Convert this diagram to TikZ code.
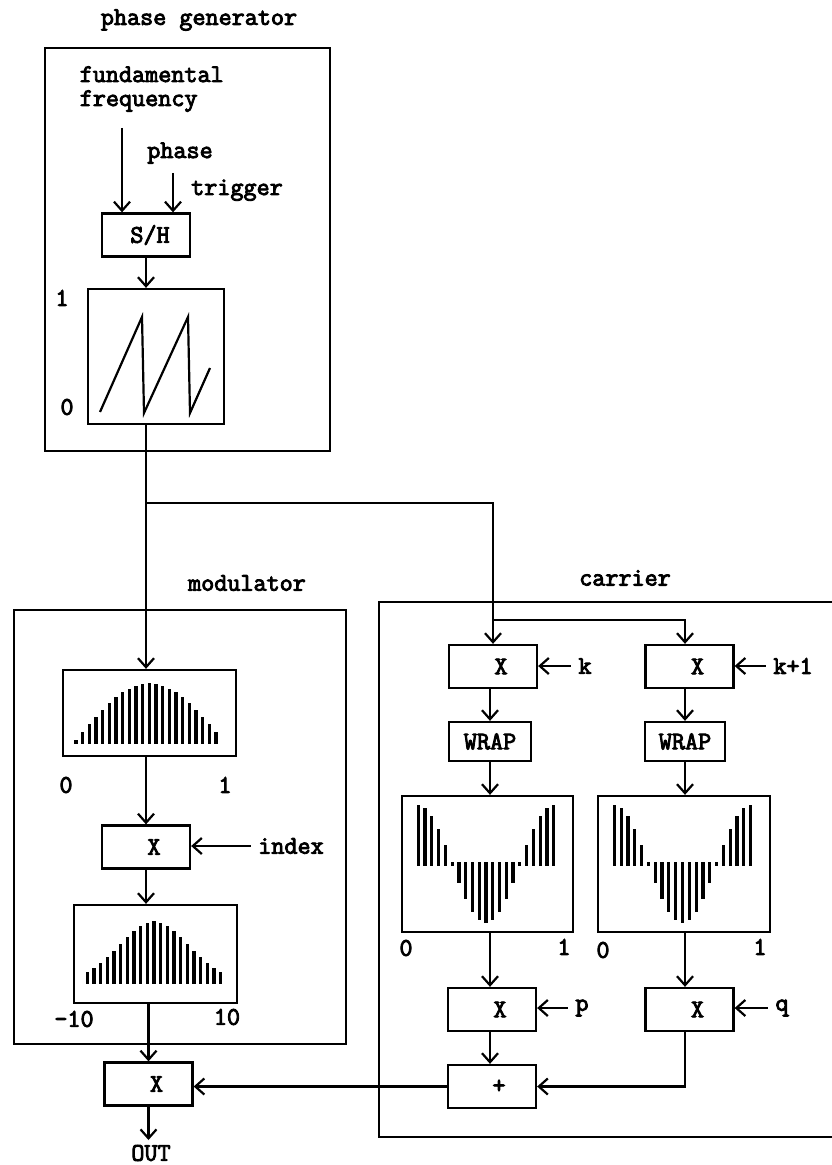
\documentclass[tikz,border=0pt]{standalone}
\usepackage{fontspec}
\newfontfamily\courb{Latin Modern Mono}[FakeBold=3.5]
\usetikzlibrary{arrows.meta,calc}

\tikzset{
  box/.style={draw, line width=1.15pt, inner sep=0pt, minimum width=44pt, minimum height=21.5pt},
  mul/.style={box, label={[xshift=4pt]center:X}},
  wavetab/.style={draw, line width=1.15pt, inner sep=0pt},
  group/.style={draw, line width=1.15pt},
  bar/.style={line width=1.6pt, line cap=rect},
}

\begin{document}
\begin{tikzpicture}[x=0.5pt, y=-0.5pt, line width=1.1pt,
    >={Straight Barb[length=4.5pt,width=8pt]},
    every node/.style={font=\fontsize{12.7}{12}\selectfont\courb}]

    \useasboundingbox (0,0) rectangle (831,1165);

    % Phase generator
    \node (pgtitle) at (199,20) {phase generator};
    \draw[group] (45,48) rectangle (330,451);
    \node[anchor=base west, align=left] (fund) at (72,106) {fundamental\\frequency};
    \node[anchor=base] (phase) at (180,158) {phase};
    \node[anchor=base] (trig) at (237,195) {trigger};
    \coordinate (fin) at (122,128);
    \coordinate (tin) at (173,173);
    \node[box] (sh) at (146,235) {\hspace{4pt}S/H};
    \node[wavetab, minimum width=68pt, minimum height=67.5pt] (saw) at (156,356.5) {};
    \node (one) at (62,298) {1};
    \node (zero) at (67,407) {0};
    \draw (100,412) -- (142,317) -- (144,413) -- (188,317) -- (190,413) -- (210,368);

    \draw[->] (fin) -- (fin |- sh.north);
    \draw[->] (tin) -- (tin |- sh.north);
    \draw[->] (sh.south) -- (sh.south |- saw.north);

    % Modulator
    \node (modtitle) at (247,583) {modulator};
    \draw[group] (14,610) rectangle (346,1044);
    \node[wavetab, minimum width=86.5pt, minimum height=43pt] (modtab) at (149.5,713) {};
    \node (mzero) at (66,785) {0};
    \node (mone) at (225,785) {1};
    \node[mul] (mx) at (146,847) {};
    \node (idx) at (291,846) {index};
    \node[wavetab, minimum width=81.5pt, minimum height=49pt] (gauss) at (155.5,954) {};
    \node (gmin) at (74,1019) {-10};
    \node (gmax) at (227,1017) {10};

    \foreach \i in {0,...,21}
        \draw[bar] (76+6.67*\i,742) -- ++(0,{-57*sin(180*\i/22)-0.01});
    \foreach \i in {0,...,20}
        \draw[bar] (87.3+6.67*\i,982) -- ++(0,{-59*exp(-((\i-10)^2)/52)});

    \draw[->] (sh.south |- saw.south) -- (sh.south |- modtab.north);
    \draw[->] (mx |- modtab.south) -- (mx.north);
    \draw[->] (idx.west) -- (idx.west -| mx.east);
    \draw[->] (mx.south) -- (mx |- gauss.north);

    % Carrier
    \node (cartitle) at (625,578) {carrier};
    \draw[group] (833,602) -| (379,1137) -- (833,1137);
    \node[mul] (kx) at (493,666.5) {};
    \node[mul] (k1x) at (689.5,666.5) {};
    \node (klab) at (585,666) {k};
    \node (k1lab) at (793,666) {k+1};
    \node[box, minimum width=41pt, minimum height=19.5pt] (wrapl) at (490,741.5) {WRAP};
    \node[box, minimum width=40pt, minimum height=19.5pt] (wrapr) at (685,741.5) {WRAP};
    \node[wavetab, minimum width=85.5pt, minimum height=68pt] (tabl) at (487.5,864) {};
    \node[wavetab, minimum width=86pt, minimum height=68pt] (tabr) at (684,864) {};
    \node (lzero) at (406,948) {0};
    \node (lone) at (564,947) {1};
    \node (rzero) at (603,950) {0};
    \node (rone) at (760,947) {1};
    \node[mul] (px) at (492,1009.5) {};
    \node[mul] (qx) at (689.5,1009.5) {};
    \node (plab) at (582,1008) {p};
    \node (qlab) at (782,1008) {q};
    \node[box] (sum) at (492,1086.5) {\hspace{7pt}+};

    \foreach \i in {0,...,20} {
        \draw[bar] (418.3+6.77*\i,864) -- ++(0,{-57*cos(18*\i)-0.01});
        \draw[bar] (614.3+6.82*\i,864) -- ++(0,{-57*cos(18*\i)-0.01});
    }

    % Branch to carrier
    \coordinate (split) at (147,503);
    \coordinate (split2) at (493,620);
    \draw[->] (split) -| (kx.north);
    \draw[->] (split2) -| (k1x.north -| wrapr);

    \draw[->] (klab.west) -- (klab.west -| kx.east);
    \draw[->] (k1lab.west) -- (k1lab.west -| k1x.east);
    \draw[->] (kx.south -| wrapl) -- (wrapl.north);
    \draw[->] (wrapl.south) -- (wrapl.south |- tabl.north);
    \draw[->] (wrapl.south |- tabl.south) -- (wrapl.south |- px.north);
    \draw[->] (wrapl.south |- px.south) -- (wrapl.south |- sum.north);
    \draw[->] (k1x.south -| wrapr) -- (wrapr.north);
    \draw[->] (wrapr.south) -- (wrapr.south |- tabr.north);
    \draw[->] (wrapr.south |- tabr.south) -- (wrapr.south |- qx.north);
    \draw[->] (wrapr.south |- qx.south) |- (sum.east);
    \draw[->] (plab.west) -- (plab.west -| px.east);
    \draw[->] (qlab.west) -- (qlab.west -| qx.east);

    % Output
    \node[mul] (outx) at (148.5,1084) {};
    \node (outlab) at (151,1153) {OUT};
    \coordinate (outend) at (148.5,1140);
    \draw[->] (outx |- gauss.south) -- (outx.north);
    \draw[->] (sum.west) -- (sum.west -| outx.east);
    \draw[->] (outx.south) -- (outend);

\end{tikzpicture}
\end{document}
